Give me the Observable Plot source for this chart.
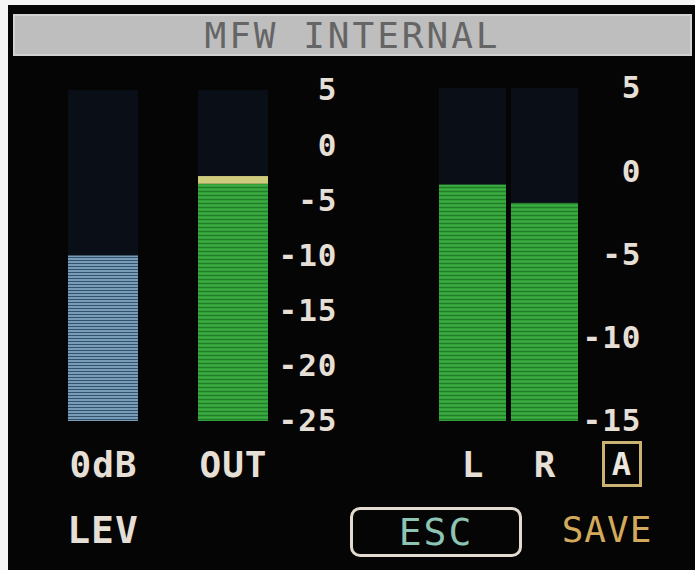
<!DOCTYPE html>
<html>
<head>
<meta charset="utf-8">
<script src="https://cdn.jsdelivr.net/npm/d3@7"></script>
<script src="https://cdn.jsdelivr.net/npm/@observablehq/plot@0.6"></script>
<style>
  html, body { margin: 0; padding: 0; background: #f4f4f4; }
  #screen { position: absolute; left: 8px; top: 5px; width: 687px; height: 565px; background: #050505; overflow: hidden; }
  .abs { position: absolute; }
  #title { left: 13px; top: 14px; width: 675px; height: 38px; background: #bebebe; border: 2px solid #d2d2d2;
           font: 36px "DejaVu Sans Mono", monospace; letter-spacing: 3px; color: #656565; text-align: center; line-height: 40px; }
  .lbl { font: bold 38px "DejaVu Sans Mono", monospace; color: #e6dfd6; letter-spacing: 1px; }
</style>
</head>
<body>
<div id="screen"></div>
<div id="title" class="abs">MFW INTERNAL</div>
<div id="root"></div>
<script>
// ---- data ----
const titleText = "MFW INTERNAL";
const leftMeters = ["0dB", "OUT"];
const leftLevels = [-10, -3.5];          // top of the main bar segment (dB)
const leftFloor = -25, leftCeil = 5;
const leftTicks = [5, 0, -5, -10, -15, -20, -25];
const outPeakFrom = [-3.5];              // yellow peak segment on OUT
const outPeakTo = [-2.8];

const rightMeters = ["L", "R"];
const rightLevels = [-0.8, -1.9];
const rightFloor = -15, rightCeil = 5;
const rightTicks = [5, 0, -5, -10, -15];

const buttonsRow = ["LEV", "ESC", "SAVE"];
const modeLabel = "A";

// ---- helpers ----
const FONT = "'DejaVu Sans Mono', monospace";
function addPatterns(svg) {
  const ns = "http://www.w3.org/2000/svg";
  const defs = document.createElementNS(ns, "defs");
  defs.innerHTML = `
    <pattern id="blueStripe" patternUnits="userSpaceOnUse" width="6" height="3">
      <rect width="6" height="3" fill="#34526b"/>
      <rect width="6" height="2" fill="#789db8"/>
    </pattern>
    <pattern id="greenStripe" patternUnits="userSpaceOnUse" width="6" height="4">
      <rect width="6" height="4" fill="#31a037"/>
      <rect y="3" width="6" height="1" fill="#247d2a"/>
      <rect y="1" width="6" height="1" fill="#3dac45"/>
    </pattern>`;
  svg.insertBefore(defs, svg.firstChild);
}
const svgStyle = {background: "transparent", color: "#e6dfd6", fontFamily: FONT, fontWeight: "bold", overflow: "visible", position: "absolute", left: "0px", top: "0px", letterSpacing: "1px"};

// ---- left panel: LEV / OUT ----
const leftData = leftMeters.map((m, i) => ({meter: m, level: leftLevels[i], fill: i === 0 ? "url(#blueStripe)" : "url(#greenStripe)"}));
const leftPlot = Plot.plot({
  width: 345, height: 570,
  marginLeft: 0, marginRight: 8, marginTop: 0, marginBottom: 119,
  style: svgStyle,
  x: {type: "band", domain: leftMeters, range: [67, 269], paddingInner: 0.458, paddingOuter: 0, label: null},
  y: {domain: [leftFloor, leftCeil], range: [421, 90], label: null},
  marks: [
    Plot.barY(leftMeters, {x: d => d, y1: leftFloor, y2: leftCeil, fill: "#0a0f17"}),
    Plot.barY(leftData, {x: "meter", y1: leftFloor, y2: "level", fill: "fill"}),
    Plot.barY(outPeakFrom, {x: () => "OUT", y1: d => d, y2: (d, i) => outPeakTo[i], fill: "#cfcb7c"}),
    Plot.axisY({anchor: "right", ticks: leftTicks, tickFormat: d => String(d), tickSize: 0, tickPadding: 0, textAnchor: "end", fontSize: 31, label: null}),
    Plot.axisX({anchor: "bottom", tickSize: 0, tickPadding: 0, fontSize: 36, label: null})
  ]
});
addPatterns(leftPlot);

// ---- right panel: L / R ----
const rightData = rightMeters.map((m, i) => ({meter: m, level: rightLevels[i]}));
const rightPlot = Plot.plot({
  width: 695, height: 570,
  marginLeft: 0, marginRight: 54, marginTop: 0, marginBottom: 119,
  style: svgStyle,
  x: {type: "band", domain: rightMeters, range: [438, 578], paddingInner: 0.07, paddingOuter: 0, label: null},
  y: {domain: [rightFloor, rightCeil], range: [421, 88], label: null},
  marks: [
    Plot.barY(rightMeters, {x: d => d, y1: rightFloor, y2: rightCeil, fill: "#0a0f17"}),
    Plot.barY(rightData, {x: "meter", y1: rightFloor, y2: "level", fill: "url(#greenStripe)"}),
    Plot.axisY({anchor: "right", ticks: rightTicks, tickFormat: d => String(d), tickSize: 0, tickPadding: 0, textAnchor: "end", fontSize: 31, label: null}),
    Plot.axisX({anchor: "bottom", tickSize: 0, tickPadding: 0, fontSize: 36, label: null})
  ]
});
addPatterns(rightPlot);

const root = document.getElementById("root");
root.appendChild(leftPlot);
root.appendChild(rightPlot);

// ---- title and buttons ----
document.getElementById("title").textContent = titleText;

function addDiv(text, css) {
  const d = document.createElement("div");
  d.className = "abs lbl";
  d.textContent = text;
  Object.assign(d.style, css);
  root.appendChild(d);
  return d;
}
// mode box
addDiv(modeLabel, {left: "602px", top: "441px", width: "34px", height: "40px", border: "3px solid #c9b272", textAlign: "center", lineHeight: "40px", fontSize: "32px", color: "#ece6de"});
// bottom row
addDiv(buttonsRow[0], {left: "63px", top: "508px", width: "80px", textAlign: "center", lineHeight: "44px"});
addDiv(buttonsRow[1], {left: "350px", top: "507px", width: "166px", height: "44px", border: "3px solid #e3dbd0", borderRadius: "10px", textAlign: "center", lineHeight: "44px", color: "#8dc4b4", fontWeight: "normal", letterSpacing: "2px"});
addDiv(buttonsRow[2], {left: "556px", top: "508px", width: "102px", textAlign: "center", lineHeight: "44px", color: "#d3aa5c", fontWeight: "normal", fontSize: "36px"});
</script>
</body>
</html>
